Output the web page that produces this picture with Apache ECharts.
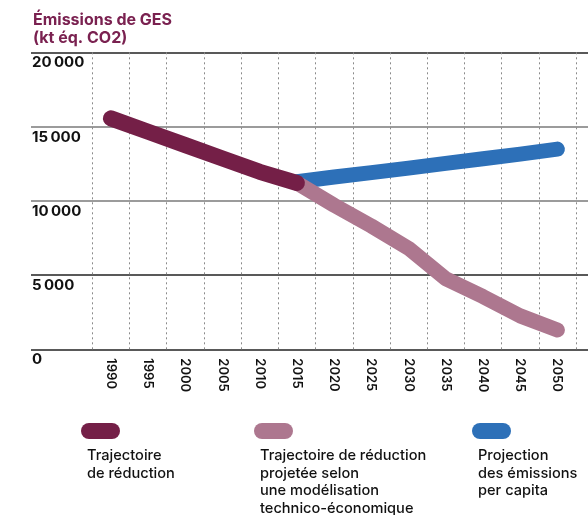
<!DOCTYPE html>
<html>
<head>
<meta charset="utf-8">
<script src="https://cdn.jsdelivr.net/npm/echarts@6/dist/echarts.min.js"></script>
<style>
html,body{margin:0;padding:0;background:#fff;}
#chart{width:588px;height:515px;}
</style>
</head>
<body>
<div id="chart"></div>
<script>
const years = ['1990','1995','2000','2005','2010','2015','2020','2025','2030','2035','2040','2045','2050'];
const reduction = [15550, 14650, 13750, 12850, 11950, 11200, null, null, null, null, null, null, null];
const modelled = [null, null, null, null, null, 11200, 9700, 8300, 6800, 4750, 3550, 2250, 1300];
const perCapita = [null, null, null, null, null, 11280, 11600, 11900, 12200, 12520, 12830, 13140, 13480];
const yTicks = [0, 5000, 10000, 15000, 20000];
const seriesNames = [
  ['Trajectoire', 'de réduction'],
  ['Trajectoire de réduction', 'projetée selon', 'une modélisation', 'technico-économique'],
  ['Projection', 'des émissions', 'per capita']
];
const titleLines = ['Émissions de GES', '(kt éq. CO2)'];

const colors = ['#741f47', '#ad778f', '#2d70b8'];
const FONT = 'Inter, "Noto Sans", sans-serif';

const chart = echarts.init(document.getElementById('chart'), null, {renderer: 'canvas'});

function fmt(v) {
  if (v === 0) return '0';
  const s = String(v);
  return s.slice(0, s.length - 3) + '\u2009' + s.slice(-3);
}

const legendX = [81, 254, 472];
const graphics = [];
seriesNames.forEach((lines, i) => {
  graphics.push({
    type: 'rect', x: legendX[i], y: 423,
    shape: {x: 0, y: 0, width: 39, height: 16, r: 8},
    style: {fill: colors[i]}
  });
  lines.forEach((ln, j) => {
    graphics.push({
      type: 'text', x: legendX[i] + 6, y: 448.5 + j * 17.5,
      style: {text: ln, x: 0, y: 0, align: 'left', verticalAlign: 'top', font: '500 14.6px ' + FONT, fill: '#111'}
    });
  });
});
titleLines.forEach((ln, j) => {
  graphics.push({
    type: 'text', x: 33, y: 12.5 + j * 17.5,
    style: {text: ln, x: 0, y: 0, align: 'left', verticalAlign: 'top', font: 'bold 16px ' + FONT, fill: '#7a2150'}
  });
});

const option = {
  animation: false,
  backgroundColor: '#fff',
  grid: [
    {left: 92.3, right: 12, top: 52.3, bottom: 165.7},
    {left: 31, right: 0, top: 52.3, bottom: 165.7}
  ],
  xAxis: [
    {
      type: 'category', gridIndex: 0, data: years, boundaryGap: true,
      axisLine: {show: false}, axisTick: {show: false},
      axisLabel: {rotate: -90, margin: 9, fontSize: 13, fontWeight: 600, fontFamily: FONT, color: '#111', interval: 0},
      splitLine: {show: true, interval: 0, lineStyle: {type: [2, 3], color: '#8a8a8a', width: 1}}
    },
    {type: 'value', gridIndex: 1, show: false}
  ],
  yAxis: [
    {type: 'value', gridIndex: 0, min: 0, max: 20000, interval: 5000, show: false, splitLine: {show: false}},
    {
      type: 'value', gridIndex: 1, min: 0, max: 20000, interval: 5000,
      axisLine: {show: false}, axisTick: {show: false},
      axisLabel: {
        inside: true, margin: 1, verticalAlign: 'top', align: 'left', padding: [3, 0, 0, 0],
        fontSize: 15, fontWeight: 'bold', fontFamily: FONT, color: '#111',
        formatter: (v) => yTicks.includes(v) ? fmt(v) : ''
      },
      splitLine: {show: true, lineStyle: {color: ['#222', '#222', '#7a7a7a', '#7a7a7a', '#222'], width: 1.5}}
    }
  ],
  series: [
    {
      name: 'perCapita', type: 'line', xAxisIndex: 0, yAxisIndex: 0, data: perCapita,
      showSymbol: false, lineStyle: {width: 15, color: colors[2], cap: 'round', join: 'round'}, z: 2
    },
    {
      name: 'modelled', type: 'line', xAxisIndex: 0, yAxisIndex: 0, data: modelled,
      showSymbol: false, lineStyle: {width: 15, color: colors[1], cap: 'round', join: 'round'}, z: 3
    },
    {
      name: 'reduction', type: 'line', xAxisIndex: 0, yAxisIndex: 0, data: reduction,
      showSymbol: false, lineStyle: {width: 16, color: colors[0], cap: 'round', join: 'round'}, z: 4
    }
  ],
  graphic: graphics
};
chart.setOption(option);
</script>
</body>
</html>
